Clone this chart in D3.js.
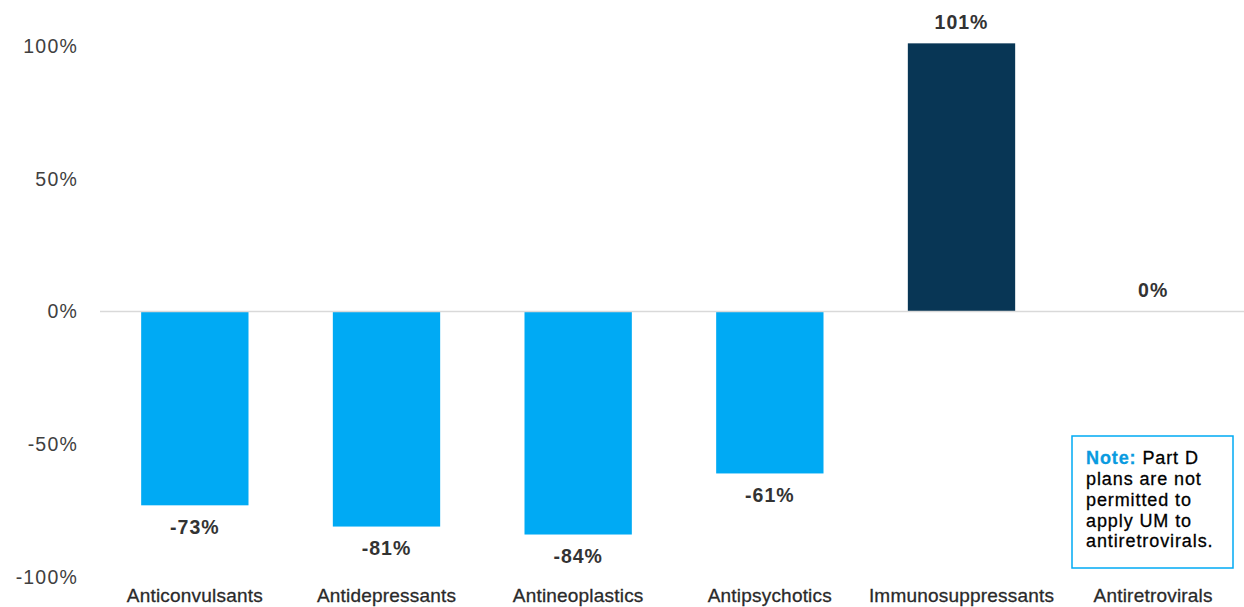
<!DOCTYPE html>
<html><head><meta charset="utf-8">
<script src="https://cdn.jsdelivr.net/npm/d3@7"></script>
<style>
body{margin:0;background:#fff;}
svg{display:block;font-family:"Liberation Sans",Arial,sans-serif;}
</style></head>
<body><svg id="c" width="1244" height="607"></svg>
<script>
const categories = ["Anticonvulsants","Antidepressants","Antineoplastics","Antipsychotics","Immunosuppressants","Antiretrovirals"];
const values = [-73,-81,-84,-61,101,0];
const valueLabels = ["-73%","-81%","-84%","-61%","101%","0%"];
const yTicks = [100,50,0,-50,-100];
const noteLines = ["plans are not","permitted to","apply UM to","antiretrovirals."];

const svg = d3.select("#c");
const x = d3.scaleBand().domain(categories).range([99,1249]).paddingInner(0.44).paddingOuter(0.22);
const y = d3.scaleLinear().domain([-100,100]).range([577,46]);

// y tick labels
svg.append("g").selectAll("text").data(yTicks).join("text")
  .attr("x",78).attr("y",d=>y(d)).attr("dy","0.35em")
  .attr("text-anchor","end").attr("font-size",19.5).attr("letter-spacing",1.2).attr("fill","#404040")
  .text(d=>d+"%");

// bars
svg.append("g").selectAll("rect").data(values).join("rect")
  .attr("x",(d,i)=>x(categories[i])).attr("width",x.bandwidth())
  .attr("y",d=>y(Math.max(0,d))).attr("height",d=>Math.abs(y(d)-y(0)))
  .attr("fill",d=>d>0?"#083655":"#00aaf4");

// zero line
svg.append("line").attr("x1",100).attr("x2",1244).attr("y1",y(0)).attr("y2",y(0))
  .attr("stroke","#d9d9d9").attr("stroke-width",1.5);

// value labels
svg.append("g").selectAll("text").data(values).join("text")
  .attr("x",(d,i)=>x(categories[i])+x.bandwidth()/2)
  .attr("y",d=>d<0?y(d)+22:y(d)-21)
  .attr("dy","0.35em").attr("text-anchor","middle")
  .attr("font-size",19.5).attr("letter-spacing",1).attr("font-weight","bold").attr("fill","#333")
  .text((d,i)=>valueLabels[i]);

// category labels
svg.append("g").selectAll("text").data(categories).join("text")
  .attr("x",d=>x(d)+x.bandwidth()/2).attr("y",602)
  .attr("text-anchor","middle").attr("font-size",19).attr("letter-spacing",0.2).attr("fill","#2a2a2a")
  .attr("stroke","#2a2a2a").attr("stroke-width",0.3)
  .text(d=>d);

// note box
const nb = svg.append("g");
nb.append("rect").attr("x",1072).attr("y",436).attr("width",161).attr("height",132)
  .attr("fill","#fff").attr("stroke","#00aaf4").attr("stroke-width",1.5);
const t0 = nb.append("text").attr("x",1086).attr("y",464).attr("font-size",18).attr("letter-spacing",0.9)
  .attr("fill","#000").attr("stroke","#000").attr("stroke-width",0.3);
t0.append("tspan").attr("font-weight","bold").attr("fill","#0a9be0").attr("stroke","#0a9be0").text("Note:");
t0.append("tspan").text(" Part D");
nb.selectAll("text.l").data(noteLines).join("text").attr("class","l")
  .attr("x",1086).attr("y",(d,i)=>485+i*20.8).attr("font-size",18).attr("letter-spacing",0.9)
  .attr("fill","#000").attr("stroke","#000").attr("stroke-width",0.3)
  .text(d=>d);
</script></body></html>
